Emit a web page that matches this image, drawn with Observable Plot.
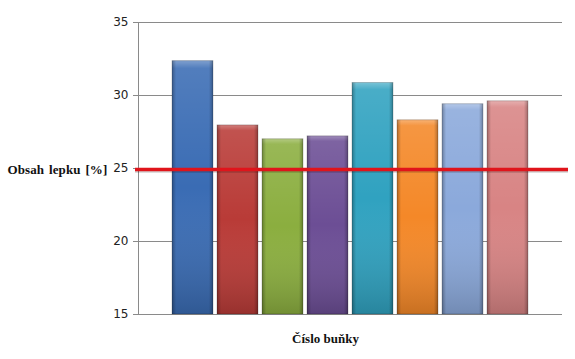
<!DOCTYPE html>
<html>
<head>
<meta charset="utf-8">
<script src="https://cdn.jsdelivr.net/npm/d3@7"></script>
<script src="https://cdn.jsdelivr.net/npm/@observablehq/plot@0.6"></script>
<style>
  html, body { margin: 0; padding: 0; background: #fff; }
  #chart { width: 575px; height: 359px; }
</style>
</head>
<body>
<div id="chart"></div>
<script>
const cells = ["1", "2", "3", "4", "5", "6", "7", "8"];
const gluten = [32.35, 27.95, 27.0, 27.2, 30.85, 28.3, 29.4, 29.6];
const barColors = ["#3a6cb4", "#b93b37", "#8bae3f", "#6c4e95", "#30a2c0", "#f48828", "#8ba9db", "#d88484"];
const yTicks = [15, 20, 25, 30, 35];
const limit = [25];
const yLabel = "Obsah lepku [%]";
const xLabel = "Číslo buňky";

const data = cells.map((c, i) => ({cell: c, value: gluten[i]}));

const plot = Plot.plot({
  width: 575,
  height: 359,
  marginLeft: 138,
  marginRight: 13,
  marginTop: 22,
  marginBottom: 45,
  style: {fontFamily: "DejaVu Sans, sans-serif", fontSize: "12px", color: "#222", background: "#fff"},
  x: {domain: cells, range: [167.5, 531.5], paddingInner: 0.1, paddingOuter: 0.05, axis: null},
  y: {domain: [15, 35], ticks: yTicks, label: null},
  color: {domain: cells, range: barColors},
  marks: [
    Plot.gridY(yTicks, {stroke: "#8a8a8a", strokeOpacity: 1, strokeWidth: 1}),
    Plot.frame({anchor: "left", stroke: "#8a8a8a"}),
    Plot.axisY({ticks: yTicks, tickSize: 5, tickPadding: 5, stroke: "#8a8a8a", fill: "#222", fontSize: 12, label: null}),
    Plot.barY(data, {x: "cell", y1: 15, y2: "value", fill: "cell"}),
    Plot.barY(data, {x: "cell", y1: 15, y2: "value", fill: "url(#vshade)"}),
    Plot.barY(data, {x: "cell", y1: 15, y2: "value", fill: "url(#hshade)", stroke: "rgba(0,0,0,0.25)", strokeWidth: 0.8}),
    Plot.ruleY(limit, {stroke: "rgba(0,0,0,0.18)", strokeWidth: 3.5, insetLeft: -3, insetRight: -6, dy: 2.5}),
    Plot.ruleY(limit, {stroke: "#e0141b", strokeWidth: 3.5, insetLeft: -3, insetRight: -6, dy: 1}),
    Plot.text([yLabel], {frameAnchor: "left", dx: -131, dy: 1, textAnchor: "start", fontFamily: "Liberation Serif, serif", fontWeight: "bold", fontSize: 13, fill: "#111"}),
    Plot.text([xLabel], {frameAnchor: "bottom", dx: -25, dy: 28, textAnchor: "middle", fontFamily: "Liberation Serif, serif", fontWeight: "bold", fontSize: 13, fill: "#111"})
  ]
});

const svg = d3.select(plot);
svg.selectAll("text").filter(function() { return d3.select(this).text() === yLabel; })
  .style("letter-spacing", "0.1px").style("word-spacing", "1.5px");
const defs = svg.insert("defs", ":first-child");
const v = defs.append("linearGradient").attr("id", "vshade").attr("x1", 0).attr("y1", 0).attr("x2", 0).attr("y2", 1);
v.append("stop").attr("offset", "0").attr("stop-color", "#fff").attr("stop-opacity", 0.35);
v.append("stop").attr("offset", "0.03").attr("stop-color", "#fff").attr("stop-opacity", 0.12);
v.append("stop").attr("offset", "0.5").attr("stop-color", "#fff").attr("stop-opacity", 0.0);
v.append("stop").attr("offset", "1").attr("stop-color", "#000").attr("stop-opacity", 0.18);
const h = defs.append("linearGradient").attr("id", "hshade").attr("x1", 0).attr("y1", 0).attr("x2", 1).attr("y2", 0);
h.append("stop").attr("offset", "0").attr("stop-color", "#000").attr("stop-opacity", 0.28);
h.append("stop").attr("offset", "0.1").attr("stop-color", "#000").attr("stop-opacity", 0.0);
h.append("stop").attr("offset", "0.9").attr("stop-color", "#000").attr("stop-opacity", 0.0);
h.append("stop").attr("offset", "1").attr("stop-color", "#000").attr("stop-opacity", 0.28);

document.getElementById("chart").appendChild(plot);
</script>
</body>
</html>
